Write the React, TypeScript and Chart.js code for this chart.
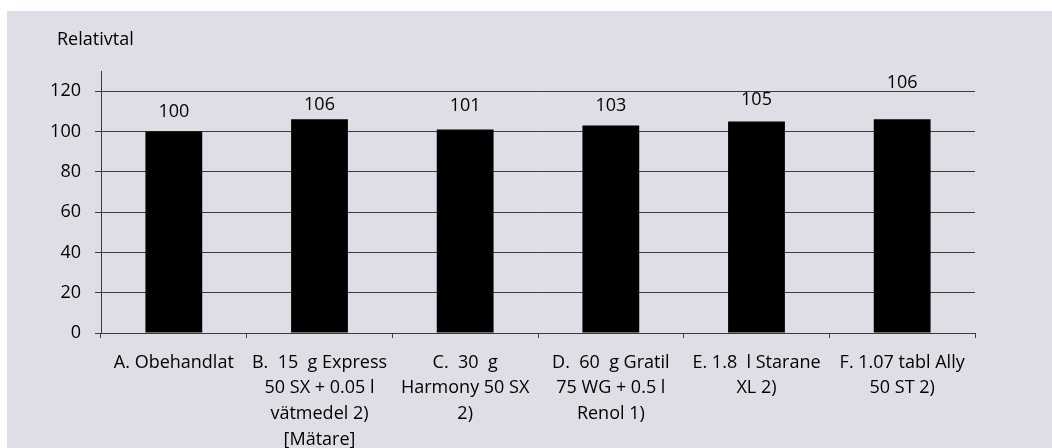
import React, { useEffect, useRef } from "react";
import { Chart, registerables } from "chart.js";

Chart.register(...registerables);

const categories: string[][] = [
  ["A. Obehandlat"],
  ["B.  15  g Express", "50 SX + 0.05 l", "vätmedel 2)", "[Mätare]"],
  ["C.  30  g", "Harmony 50 SX", "2)"],
  ["D.  60  g Gratil", "75 WG + 0.5 l", "Renol 1)"],
  ["E. 1.8  l Starane", "XL 2)"],
  ["F. 1.07 tabl Ally", "50 ST 2)"],
];
const values: number[] = [100, 106, 101, 103, 105, 106];
const yTicks: number[] = [0, 20, 40, 60, 80, 100, 120];
const yAxisTitle = "Relativtal";

// pixel lift of each value label above its bar (style, not data)
const labelLift: number[] = [20, 14, 24, 20, 22, 36];

const FONT = "'Open Sans', sans-serif";
const TEXT = "#000000";
const LINE = "#3c3c3c";

const valueLabels = {
  id: "valueLabels",
  afterDatasetsDraw(chart: any) {
    const ctx = chart.ctx;
    const meta = chart.getDatasetMeta(0);
    ctx.save();
    ctx.font = `18px ${FONT}`;
    ctx.fillStyle = TEXT;
    ctx.textAlign = "center";
    ctx.textBaseline = "middle";
    meta.data.forEach((bar: any, i: number) => {
      ctx.fillText(String(values[i]), bar.x, bar.y - labelLift[i]);
    });
    ctx.restore();
  },
};

const axisTitle = {
  id: "axisTitle",
  afterDraw(chart: any) {
    const ctx = chart.ctx;
    ctx.save();
    ctx.font = `18px ${FONT}`;
    ctx.fillStyle = TEXT;
    ctx.textAlign = "left";
    ctx.textBaseline = "middle";
    ctx.fillText(yAxisTitle, chart.chartArea.left - 44, 29);
    ctx.restore();
  },
};

export default function App() {
  const ref = useRef<HTMLCanvasElement | null>(null);

  useEffect(() => {
    document.body.style.margin = "0";
    document.body.style.background = "#ffffff";
    if (!ref.current) return;
    const chart = new Chart(ref.current, {
      type: "bar",
      data: {
        labels: categories,
        datasets: [
          {
            data: values,
            backgroundColor: "#000000",
            borderWidth: 0,
            barPercentage: 0.39,
            categoryPercentage: 1,
          },
        ],
      },
      options: {
        animation: false,
        responsive: false,
        devicePixelRatio: 1,
        layout: { padding: { top: 60, right: 77, left: 0, bottom: 0 } },
        plugins: {
          legend: { display: false },
          tooltip: { enabled: false },
          title: { display: false },
        },
        scales: {
          x: {
            afterFit(scale: any) {
              scale.height = 115;
            },
            grid: {
              offset: true,
              drawOnChartArea: false,
              drawTicks: true,
              tickLength: 5,
              color: LINE,
              lineWidth: 1,
            },
            border: { display: true, color: LINE, width: 1 },
            ticks: {
              color: TEXT,
              font: { family: FONT, size: 18, lineHeight: 1.42 },
              maxRotation: 0,
              minRotation: 0,
              autoSkip: false,
              padding: 12,
            },
          },
          y: {
            min: 0,
            max: 130,
            afterFit(scale: any) {
              scale.width = 94;
            },
            afterBuildTicks(scale: any) {
              scale.ticks = yTicks.map((v) => ({ value: v }));
            },
            grid: {
              color: LINE,
              lineWidth: 1,
              drawTicks: true,
              tickLength: 6,
            },
            border: { display: true, color: LINE, width: 1 },
            ticks: {
              color: TEXT,
              font: { family: FONT, size: 18 },
              padding: 14,
            },
          },
        },
      },
      plugins: [valueLabels, axisTitle],
    });
    return () => chart.destroy();
  }, []);

  return (
    <div
      style={{
        position: "absolute",
        left: 7,
        top: 11,
        width: 1045,
        height: 437,
        background: "#dedee6",
      }}
    >
      <canvas ref={ref} width={1045} height={437} style={{ display: "block" }} />
    </div>
  );
}
